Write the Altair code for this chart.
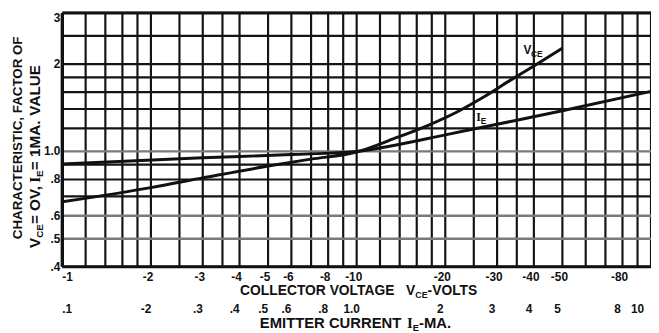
import altair as alt
import pandas as pd

# ---------------- data ----------------
vce_volts = [1, 2, 3, 5, 7, 10, 13.5, 17.5, 22, 27, 33, 40, 50]
vce_factor = [0.67, 0.75, 0.81, 0.89, 0.94, 0.995, 1.11, 1.23, 1.37, 1.54, 1.75, 1.97, 2.27]

ie_ma = [0.1, 0.3, 0.6, 1.0, 1.35, 2, 3, 5, 10]
ie_factor = [0.905, 0.95, 0.975, 1.0, 1.05, 1.14, 1.24, 1.38, 1.61]

grid_volts = [1, 1.2, 1.4, 1.6, 1.8, 2, 2.5, 3, 3.5, 4, 5, 6, 7, 8, 9, 10,
              12, 14, 16, 18, 20, 25, 30, 35, 40, 50, 60, 70, 80, 90, 100]
grid_factor = [0.4, 0.5, 0.6, 0.7, 0.8, 0.9, 1.0, 1.2, 1.4, 1.6, 1.8, 2, 2.5, 3]
grey_factor = [0.5, 0.6, 1.0]

volt_ticks = [1, 2, 3, 4, 5, 6, 8, 10, 20, 30, 40, 50, 80]
volt_labels = ["-1", "-2", "-3", "-4", "-5", "-6", "-8", "-10", "-20", "-30", "-40", "-50", "-80"]
ma_ticks = [0.1, 0.2, 0.3, 0.4, 0.5, 0.6, 0.8, 1.0, 2, 3, 4, 5, 8, 10]
ma_labels = [".1", "-2", ".3", ".4", ".5", ".6", ".8", "1.0", "2", "3", "4", "5", "8", "10"]
factor_ticks = [0.4, 0.5, 0.6, 0.8, 1.0, 2, 3]
factor_labels = [".4", ".5", ".6", ".8", "1.0", "2", "3"]

# ---------------- layout ----------------
W, H = 596, 257
FONT = "Liberation Sans"
SERIF = "Liberation Serif"
INK = "#111111"
NB = "\u00a0"

xv = alt.Scale(type="log", domain=[volt_ticks[0], grid_volts[-1]], nice=False)
xm = alt.Scale(type="log", domain=[ma_ticks[0], ma_ticks[-1]], nice=False)
ys = alt.Scale(type="log", domain=[grid_factor[0], grid_factor[-1]], nice=False)

# Arial/Liberation Sans Bold advance widths (per 1000 em)
AW = {" ": 278, NB: 278, ",": 278, "-": 333, ".": 278, "=": 584, "1": 556, "0": 556,
      "A": 722, "B": 722, "C": 722, "D": 722, "E": 667, "F": 611, "G": 778,
      "H": 722, "I": 278, "K": 722, "L": 611, "M": 833, "N": 722, "O": 778,
      "P": 667, "R": 722, "S": 667, "T": 611, "U": 722, "V": 667}


def tw(s, size, font=FONT):
    if font == SERIF:
        return 389 * size / 1000 * len(s)
    return sum(AW.get(c, 600) for c in s) * size / 1000


def fragments(frags, x0, y0, rotate=False):
    """frags: list of (text, size, baseline_shift, font)."""
    layers = []
    pos = 0.0
    for text, size, shift, font in frags:
        df = pd.DataFrame({"t": [text]})
        if rotate:
            mk = alt.Chart(df).mark_text(
                align="left", baseline="alphabetic", angle=270, font=font,
                fontWeight="bold", fontSize=size, color=INK
            ).encode(text="t:N", x=alt.value(x0 + shift), y=alt.value(y0 - pos))
        else:
            mk = alt.Chart(df).mark_text(
                align="left", baseline="alphabetic", font=font,
                fontWeight="bold", fontSize=size, color=INK
            ).encode(text="t:N", x=alt.value(x0 + pos), y=alt.value(y0 + shift))
        layers.append(mk)
        pos += tw(text, size, font)
    return layers


df_gv = pd.DataFrame({"v": grid_volts})
df_gy = pd.DataFrame({"f": grid_factor})
df_gy["grey"] = df_gy["f"].isin(grey_factor)
df_vce = pd.DataFrame({"v": vce_volts, "f": vce_factor})
df_ie = pd.DataFrame({"ma": ie_ma, "f": ie_factor})
df_vl = pd.DataFrame({"v": volt_ticks, "t": volt_labels})
df_ml = pd.DataFrame({"v": ma_ticks, "t": ma_labels})
df_yl = pd.DataFrame({"f": factor_ticks, "t": factor_labels})

vgrid = alt.Chart(df_gv).mark_rule(color="#141414", strokeWidth=2.2).encode(
    x=alt.X("v:Q", scale=xv, axis=None))
hgrid_dark = alt.Chart(df_gy).transform_filter("!datum.grey").mark_rule(
    color="#141414", strokeWidth=2.2).encode(y=alt.Y("f:Q", scale=ys, axis=None))
hgrid_grey = alt.Chart(df_gy).transform_filter("datum.grey").mark_rule(
    color="#7a7a7a", strokeWidth=2.4).encode(y=alt.Y("f:Q", scale=ys, axis=None))

frame_h = alt.Chart(pd.DataFrame({"f": [grid_factor[0], grid_factor[-1]]})).mark_rule(
    color=INK, strokeWidth=3).encode(y=alt.Y("f:Q", scale=ys, axis=None))
frame_v = alt.Chart(pd.DataFrame({"v": [grid_volts[0]]})).mark_rule(
    color=INK, strokeWidth=3.4).encode(x=alt.X("v:Q", scale=xv, axis=None))

line_vce = alt.Chart(df_vce).mark_line(color=INK, strokeWidth=3, interpolate="monotone").encode(
    x=alt.X("v:Q", scale=xv, axis=None), y=alt.Y("f:Q", scale=ys, axis=None))
line_ie = alt.Chart(df_ie).mark_line(color=INK, strokeWidth=3, interpolate="monotone").encode(
    x=alt.X("ma:Q", scale=xm, axis=None), y=alt.Y("f:Q", scale=ys, axis=None))

txt = dict(font=FONT, fontWeight="bold", fontSize=12, color=INK, baseline="middle")
top_val = factor_ticks[-1]

ylabels = alt.Chart(df_yl).transform_filter(f"datum.f < {top_val}").mark_text(
    align="right", **txt).encode(x=alt.value(-2), y=alt.Y("f:Q", scale=ys, axis=None), text="t:N")
ylabel_top = alt.Chart(df_yl).transform_filter(f"datum.f == {top_val}").mark_text(
    align="right", font=FONT, fontWeight="bold", fontSize=12, color=INK, baseline="top").encode(
    x=alt.value(-2), y=alt.Y("f:Q", scale=ys, axis=None), text="t:N")

ROW1, ROW2 = 267, 300
vl_first = alt.Chart(df_vl).transform_filter(f"datum.v == {volt_ticks[0]}").mark_text(
    align="left", **txt).encode(x=alt.X("v:Q", scale=xv, axis=None), y=alt.value(ROW1), text="t:N")
vl_rest = alt.Chart(df_vl).transform_filter(f"datum.v > {volt_ticks[0]}").mark_text(
    align="center", dx=-3, **txt).encode(x=alt.X("v:Q", scale=xv, axis=None), y=alt.value(ROW1), text="t:N")
ml_first = alt.Chart(df_ml).transform_filter(f"datum.v == {ma_ticks[0]}").mark_text(
    align="left", **txt).encode(x=alt.X("v:Q", scale=xm, axis=None), y=alt.value(ROW2), text="t:N")
ml_mid = alt.Chart(df_ml).transform_filter(
    f"datum.v > {ma_ticks[0]} && datum.v < {ma_ticks[-1]}").mark_text(
    align="center", dx=-5, **txt).encode(x=alt.X("v:Q", scale=xm, axis=None), y=alt.value(ROW2), text="t:N")
ml_last = alt.Chart(df_ml).transform_filter(f"datum.v == {ma_ticks[-1]}").mark_text(
    align="right", dx=-7, **txt).encode(x=alt.X("v:Q", scale=xm, axis=None), y=alt.value(ROW2), text="t:N")

title_x = (fragments([("COLLECTOR VOLTAGE", 14, 0, FONT)], 180, 286)
           + fragments([("V", 14, 0, FONT), ("CE", 9, 3, FONT), ("-VOLTS", 14, 0, FONT)], 348, 286))
title_i = (fragments([("EMITTER CURRENT", 15, 0, FONT)], 200, 319)
           + fragments([("I", 15, 0, SERIF), ("E", 9.5, 3, FONT), ("-MA.", 15, 0, FONT)], 349, 319))
ytitle1 = fragments([("CHARACTERISTIC, FACTOR OF", 13.5, 0, FONT)], -40.5, 229, rotate=True)
ytitle2 = (fragments([("V", 15.5, 0, FONT), ("CE", 10, 3.5, FONT), ("=" + NB + "OV,", 15.5, 0, FONT)],
                     -23, 238, rotate=True)
           + fragments([("I", 15.5, 0, SERIF), ("E", 10, 3.5, FONT), ("=" + NB + "1MA.", 15.5, 0, FONT)],
                       -23, 172, rotate=True)
           + fragments([("VALUE", 15.5, 0, FONT)], -23, 104, rotate=True))
lab_v = (fragments([("V", 12, 0, FONT)], 467, 42)
         + fragments([("CE", 8.5, 2.5, FONT)], 474.5, 42))
lab_i = fragments([("I", 12, 0, SERIF), ("E", 8.5, 3, FONT)], 419, 109)

layers = ([vgrid, hgrid_dark, hgrid_grey, frame_h, frame_v, line_ie, line_vce,
           ylabels, ylabel_top, vl_first, vl_rest, ml_first, ml_mid, ml_last]
          + title_x + title_i + ytitle1 + ytitle2 + lab_v + lab_i)

chart = alt.layer(*layers).resolve_scale(x="independent").properties(
    width=W, height=H,
    padding={"left": 55, "top": 3, "right": 0, "bottom": 65},
    autosize="none",
    background="white",
).configure_view(stroke=None)

chart.save("out.html", embed_options={"renderer": "svg", "actions": False})
